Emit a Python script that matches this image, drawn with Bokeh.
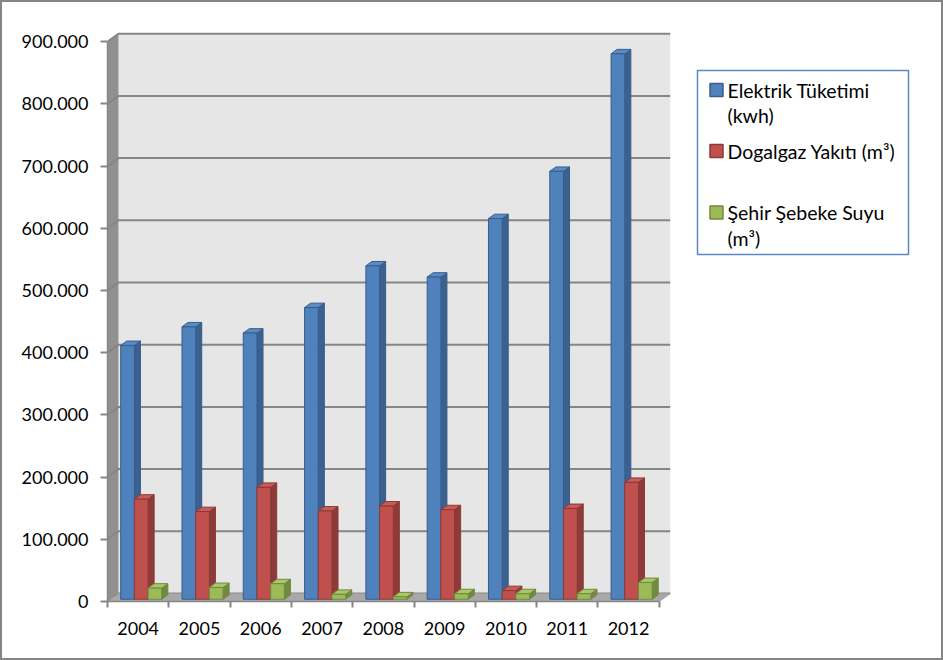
import numpy as np
from bokeh.plotting import figure
from bokeh.models import FixedTicker, CustomJSTickFormatter, Range1d
from bokeh.core.properties import value
from bokeh.embed import file_html
from bokeh.resources import INLINE

# ---------------- data ----------------
years = ["2004", "2005", "2006", "2007", "2008", "2009", "2010", "2011", "2012"]
elektrik = [408000, 438000, 428000, 469000, 536000, 518000, 612000, 688000, 877000]
dogalgaz = [161000, 141000, 180000, 142000, 150000, 144000, 14000, 146000, 188000]
su = [18000, 19000, 25000, 8000, 4000, 9000, 9000, 9000, 27000]
series_names = ["Elektrik Tüketimi (kwh)", "Dogalgaz Yakıtı (m³)", "Şehir Şebeke Suyu (m³)"]
legend_lines = [["Elektrik Tüketimi", "(kwh)"], ["Dogalgaz Yakıtı (m³)"], ["Şehir Şebeke Suyu", "(m³)"]]
y_ticks = [0, 100000, 200000, 300000, 400000, 500000, 600000, 700000, 800000, 900000]

# ---------------- layout ----------------
W, H = 943, 660               # canvas size; a 2px CSS border shifts it by BD
BD = 2
ML, MR, MT, MB = 105, 5, 18, 61
FW, FH = W - ML - MR, H - MT - MB
PX_CAT = 61.3                 # pixels per category
PX_VAL = 62.2 / 100000.0      # pixels per value unit
DXU = 11 / PX_CAT             # depth offset in x (data units)
DYU = 8 / PX_VAL              # depth offset in y (data units)
F0, F1 = 0.28, 0.83           # bar depth (front / back fraction)
BW = 0.2235                   # bar width in category units
FONT = "Lato"
FS = "18px"
FS_LEG = "19.5px"

def px(xp):   # page x -> data x
    return (xp - BD - ML) / PX_CAT

def py(yp):   # page y -> data y
    return ((BD + MT + FH) - yp) / PX_VAL

p = figure(width=W, height=H, output_backend="svg", toolbar_location=None,
           x_range=Range1d(0, FW / PX_CAT), y_range=Range1d(0, FH / PX_VAL),
           min_border_left=ML, min_border_right=MR, min_border_top=MT, min_border_bottom=MB)
p.styles = {"border": "2px solid #858585", "box-sizing": "border-box"}
p.outline_line_color = None
p.grid.visible = False
p.background_fill_color = "white"
p.border_fill_color = "white"

ncat = len(years)
ymax = y_ticks[-1]

# back wall
p.quad(left=DXU, right=ncat + DXU, bottom=DYU, top=ymax + DYU,
       fill_color="#E6E6E6", line_color=None)
# side wall
p.patch([0, DXU, DXU, 0], [0, DYU, ymax + DYU, ymax], fill_color="#909090", line_color=None)
# gridlines (back wall + side wall)
gx = [[0, DXU, ncat + DXU] for _ in y_ticks]
gy = [[v, v + DYU, v + DYU] for v in y_ticks]
p.multi_line(gx, gy, line_color="#868686", line_width=2)
# floor
p.patch([0, ncat, ncat + DXU, DXU], [0, 0, DYU, DYU], fill_color="#A8A8A8",
        line_color="#9A9A9A", line_width=1)

# bars
colors = [
    ("#4F81BD", "#3A6190", "#5A8BC7", "#385D8A"),
    ("#C0504D", "#8E3A38", "#C85C59", "#8C3836"),
    ("#9BBB59", "#728A40", "#A9C86A", "#71893F"),
]
series = [elektrik, dogalgaz, su]
ddx = (F1 - F0) * DXU
ddy = (F1 - F0) * DYU
for s, vals in enumerate(series):
    front, side, top, edge = colors[s]
    x0 = [i + 0.5 - 1.5 * BW + s * BW + F0 * DXU for i in range(ncat)]
    x1 = [a + BW for a in x0]
    yb = F0 * DYU
    yt = [v + F0 * DYU for v in vals]
    p.patches([[b, b + ddx, b + ddx, b] for b in x1],
              [[yb, yb + ddy, t + ddy, t] for t in yt],
              fill_color=side, line_color=edge, line_width=1)
    p.patches([[a, b, b + ddx, a + ddx] for a, b in zip(x0, x1)],
              [[t, t, t + ddy, t + ddy] for t in yt],
              fill_color=top, line_color=edge, line_width=1)
    p.quad(left=x0, right=x1, bottom=yb, top=yt, fill_color=front,
           line_color=edge, line_width=1)

# axes
ya = p.yaxis[0]
ya.ticker = FixedTicker(ticks=y_ticks)
ya.formatter = CustomJSTickFormatter(
    code='return Math.round(tick).toString().replace(/\\B(?=(\\d{3})+(?!\\d))/g, ".");')
ya.bounds = (0, ymax)
ya.axis_line_color = "#868686"
ya.axis_line_width = 1.5
ya.major_tick_line_color = "#868686"
ya.major_tick_line_width = 2
ya.major_tick_out = 7
ya.major_tick_in = 0
ya.minor_tick_line_color = None
ya.major_label_standoff = 12
ya.major_label_text_font = FONT
ya.major_label_text_font_size = FS
ya.major_label_text_color = "black"

xa = p.xaxis[0]
xa.ticker = FixedTicker(ticks=[i + 0.5 for i in range(ncat)], minor_ticks=list(range(ncat + 1)))
xa.major_label_overrides = {i + 0.5: years[i] for i in range(ncat)}
xa.bounds = (0, ncat)
xa.axis_line_color = "#868686"
xa.axis_line_width = 1.5
xa.major_tick_line_color = None
xa.minor_tick_line_color = "#868686"
xa.minor_tick_line_width = 2
xa.minor_tick_out = 6
xa.minor_tick_in = 0
xa.major_label_standoff = 14
xa.major_label_text_font = FONT
xa.major_label_text_font_size = FS
xa.major_label_text_color = "black"

# legend (drawn manually to match the multi-line layout)
p.quad(left=px(697), right=px(908), top=py(70), bottom=py(254),
       fill_color="white", line_color="#5B87C5", line_width=1.5)
marker_y = [89.5, 150.5, 212]
for s, lines in enumerate(legend_lines):
    front, side, top, edge = colors[s]
    cy = marker_y[s]
    p.quad(left=px(709.5), right=px(722.5), top=py(cy - 6.5), bottom=py(cy + 6.5),
           fill_color=front, line_color=edge, line_width=1.5)
    for k, line in enumerate(lines):
        p.text(x=[px(727)], y=[py(cy + k * 25.5)], text=[line],
               text_font=value(FONT), text_font_size=FS_LEG, text_color="black",
               text_baseline="middle", text_align="left")

open("out.html", "w").write(file_html(p, INLINE))
